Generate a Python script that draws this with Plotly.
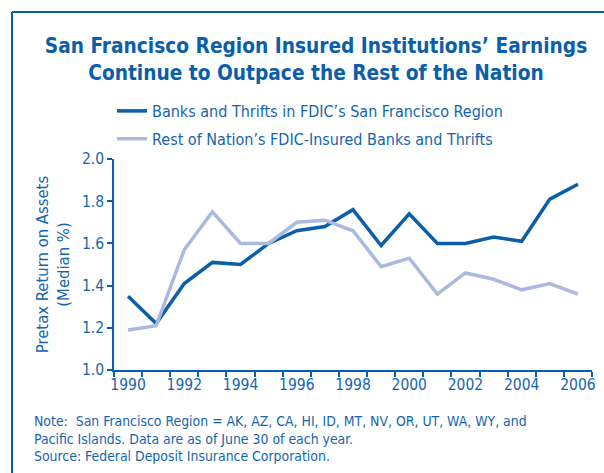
import plotly.graph_objects as go

years = list(range(1990, 2007))
sf_region = [1.35, 1.22, 1.41, 1.51, 1.50, 1.60, 1.66, 1.68, 1.76, 1.59, 1.74, 1.60, 1.60, 1.63, 1.61, 1.81, 1.88]
rest_nation = [1.19, 1.21, 1.57, 1.75, 1.60, 1.60, 1.70, 1.71, 1.66, 1.49, 1.53, 1.36, 1.46, 1.43, 1.38, 1.41, 1.36]
series_names = ["Banks and Thrifts in FDIC\u2019s San Francisco Region",
                "Rest of Nation\u2019s FDIC-Insured Banks and Thrifts"]
x_tick_years = list(range(1990, 2007, 2))
y_ticks = [1.0, 1.2, 1.4, 1.6, 1.8, 2.0]

DARK = "#0b5ea8"
LIGHT = "#aab9dd"
TEXT = "#1565ae"
FONT = "DejaVu Sans Condensed, Liberation Sans Narrow, Arial Narrow, sans-serif"

W, H = 604, 473
L, R, T, B = 114, 12, 159, 103
pw, ph = W - L - R, H - T - B

def px_x(px):
    return (px - L) / pw

def px_y(py):
    return (H - B - py) / ph

fig = go.Figure()
fig.add_trace(go.Scatter(x=years, y=sf_region, mode="lines", name=series_names[0],
                         legendgroup="sf", line=dict(color=DARK, width=3.5)))
fig.add_trace(go.Scatter(x=years, y=rest_nation, mode="lines", name=series_names[1],
                         legendgroup="rest", line=dict(color=LIGHT, width=3.5)))

fig.update_layout(
    width=W, height=H,
    margin=dict(l=L, r=R, t=T, b=B, autoexpand=False),
    paper_bgcolor="white", plot_bgcolor="white",
    font=dict(family=FONT, color=TEXT, size=16),
    title=dict(text="<b>San Francisco Region Insured Institutions\u2019 Earnings<br>Continue to Outpace the Rest of the Nation</b>",
               x=316 / W, xanchor="center", y=1 - 53 / H, yanchor="top",
               font=dict(size=20.7, color=DARK, family=FONT)),
    legend=dict(x=px_x(112), y=px_y(94), xanchor="left", yanchor="top",
                font=dict(size=16, color=TEXT), bgcolor="rgba(0,0,0,0)",
                itemwidth=30, tracegroupgap=4),
    showlegend=True,
)

fig.update_xaxes(
    range=[1989.5, 2006.5],
    tickvals=x_tick_years, ticktext=[str(y) for y in x_tick_years],
    ticks="", showgrid=False, zeroline=False,
    showline=True, linecolor=DARK, linewidth=1.5,
    tickfont=dict(size=15.5, color=TEXT), automargin=False,
    minor=dict(tickvals=[y + 0.5 for y in range(1989, 2007)], ticks="outside",
               ticklen=5, tickcolor=DARK, tickwidth=1.5, showgrid=False),
)
fig.update_yaxes(
    range=[1.0, 2.0], tickvals=y_ticks, ticktext=[f"{v:.1f}" for v in y_ticks],
    ticks="outside", ticklen=5, tickcolor=DARK, tickwidth=1.5,
    showgrid=False, zeroline=False, showline=True, linecolor=DARK, linewidth=1.5,
    tickfont=dict(size=15.5, color=TEXT), automargin=False,
    title=dict(text="Pretax Return on Assets<br>(Median %)", font=dict(size=16.5, color=TEXT), standoff=8),
)

# Frame lines (top and left)
fig.add_shape(type="line", xref="paper", yref="paper", x0=px_x(12), x1=px_x(W + 5),
              y0=px_y(12), y1=px_y(12), line=dict(color=DARK, width=2))
fig.add_shape(type="line", xref="paper", yref="paper", x0=px_x(12), x1=px_x(12),
              y0=px_y(12), y1=px_y(H + 5), line=dict(color=DARK, width=2))

notes = ["Note:  San Francisco Region = AK, AZ, CA, HI, ID, MT, NV, OR, UT, WA, WY, and",
         "Pacific Islands. Data are as of June 30 of each year.",
         "Source: Federal Deposit Insurance Corporation."]
for i, line in enumerate(notes):
    fig.add_annotation(text=line, xref="paper", yref="paper", x=px_x(32), y=px_y(421 + 17.5 * i),
                       xanchor="left", yanchor="middle", showarrow=False,
                       font=dict(size=13.9, color=TEXT))

fig.write_html("out.html", config={"displayModeBar": False},
               post_script="document.body.style.margin='0px';")
